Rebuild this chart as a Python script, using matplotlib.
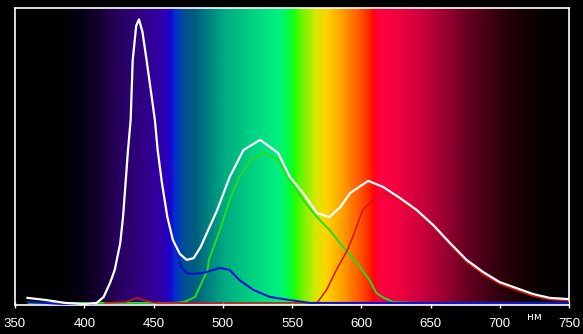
import numpy as np
import matplotlib
matplotlib.use("Agg")
import matplotlib.pyplot as plt
from matplotlib.colors import LinearSegmentedColormap

# spectrum background colour stops (nm, colour)
spectrum_nm = [350, 380, 395, 410, 425, 440, 455, 462, 465, 472, 480, 500, 520, 540, 548,
               552, 560, 568, 575, 588, 600, 606, 610, 613, 628, 645, 662, 678, 697, 715, 735, 750]
spectrum_col = ["#000000", "#000000", "#050010", "#150030", "#280060", "#300080", "#3000a8",
                "#2000d0", "#0030d0", "#005090", "#006080", "#00a880", "#00d080", "#00f080",
                "#00ff40", "#20ff00", "#90f000", "#d8e800", "#ffd400", "#ff9800", "#ff5000",
                "#ff2800", "#ff0010", "#ff0040", "#f00040", "#c8003c", "#980030", "#640020",
                "#380010", "#1a0005", "#040000", "#000000"]

# white: total spectrum
white_nm = [359, 372, 386, 400, 409, 414, 418.6, 422, 426, 428, 431.6, 433.5, 435, 437.5,
            439.5, 442, 445, 451, 453, 456, 460, 464, 469, 474, 479, 484, 496, 505, 515, 527,
            540, 548.5, 558, 568, 577, 585, 592, 605, 616, 628, 640, 652, 664, 676, 688, 700,
            712, 724, 736, 749]
white_val = [2.4, 1.7, 0.7, 0.3, 0.7, 2.7, 7.4, 11.8, 20.9, 29.6, 52.2, 62.3, 82.5, 94.0,
             96.2, 92.0, 82.5, 62.3, 52.2, 41.4, 29.6, 21.9, 17.2, 15.2, 15.8, 19.5, 32.0,
             43.1, 52.2, 55.6, 51.2, 43.1, 37.7, 31.0, 29.6, 33.0, 37.7, 41.8, 39.7, 36.0,
             32.0, 26.9, 20.9, 15.2, 11.1, 7.7, 5.7, 3.7, 2.4, 2.0]

# red
red_nm = [415, 430, 438, 445, 452, 480, 568, 575, 582, 590, 595, 601, 611, 616, 628, 640,
          652, 664, 676, 688, 700, 712, 724, 736, 749]
red_val = [0.7, 1.0, 2.4, 1.3, 0.7, 0.7, 0.7, 5.1, 11.8, 18.5, 24.2, 32.0, 36.4, 37.7, 35.0,
           31.3, 26.3, 20.3, 14.5, 10.4, 7.1, 5.0, 3.0, 1.8, 1.5]

# green
green_nm = [360, 460, 465.5, 472, 480, 489, 490, 498, 505, 512, 520, 530.5, 540, 548, 558,
            568, 577, 587, 597, 606, 611, 616, 623, 640, 750]
green_val = [0.7, 0.7, 0.7, 1.0, 2.7, 11.8, 15.2, 25.3, 35.4, 43.1, 48.8, 51.2, 48.8, 42.4,
             35.4, 29.6, 25.3, 19.5, 14.1, 8.4, 4.0, 2.5, 1.0, 0.7, 0.7]

# blue
blue_nm = [359, 372, 386, 400, 409, 414, 418.6, 422, 426, 428, 431.6, 433.5, 435, 437.5,
           439.5, 442, 445, 451, 453, 456, 460, 464, 467, 470, 474, 478, 486, 498, 505, 512,
           522, 534, 548, 563, 750]
blue_val = [1.0, 0.7, 0.3, 0.3, 0.7, 2.7, 7.4, 11.8, 20.9, 29.6, 52.2, 62.3, 82.5, 94.0,
            96.2, 92.0, 82.5, 62.3, 52.2, 41.4, 29.6, 21.9, 18.5, 12.8, 10.8, 10.5, 10.8,
            12.5, 11.8, 8.4, 5.1, 2.7, 1.7, 0.7, 0.7]

ticks = [350, 400, 450, 500, 550, 600, 650, 700, 750]

fig = plt.figure(figsize=(5.83, 3.34), dpi=100, facecolor="black")
ax = fig.add_axes([15 / 583, 29 / 334, 554 / 583, 297 / 334])
ax.set_facecolor("black")

# spectrum background
cmap = LinearSegmentedColormap.from_list(
    "spec", [((w - 350) / 400, c) for w, c in zip(spectrum_nm, spectrum_col)])
grad = np.linspace(0, 1, 800).reshape(1, -1)
ax.imshow(grad, cmap=cmap, aspect="auto", extent=(350, 750, 0, 100),
          interpolation="bilinear", zorder=0)

ax.plot(green_nm, green_val, color="#22dd22", lw=1.4, zorder=2)
ax.plot(red_nm, red_val, color="#dd1010", lw=1.1, zorder=3)
ax.plot(blue_nm, blue_val, color="#0a14d0", lw=1.5, zorder=4)
ax.plot(white_nm, white_val, color="white", lw=1.6, zorder=5)

ax.set_xlim(350, 750)
ax.set_ylim(0, 100)
ax.set_yticks([])
ax.set_xticks(ticks)
ax.set_xticklabels([str(t) for t in ticks])
ax.tick_params(axis="x", colors="white", direction="inout", length=5, width=1,
               pad=7, labelsize=9.5)
for lbl in ax.get_xticklabels():
    lbl.set_fontfamily("Liberation Sans")
for s in ax.spines.values():
    s.set_color("white")
    s.set_linewidth(1.2)

fig.text(534 / 583, 1 - 317 / 334, "нм", color="white", fontsize=7.5,
         ha="center", va="center")

fig.savefig("out.png", dpi=100, facecolor="black")
